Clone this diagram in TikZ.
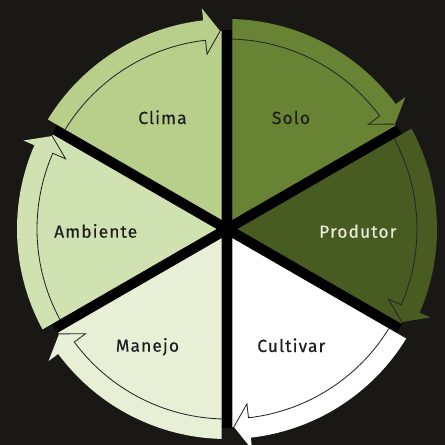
\documentclass[tikz,border=0pt]{standalone}
\usepackage{fontspec}
\setmainfont{Fira Sans}[LetterSpace=6, FakeBold=0.3]
\usetikzlibrary{calc}
\definecolor{bgcol}{HTML}{1A1815}
\definecolor{climacol}{HTML}{B8CE8B}
\definecolor{solocol}{HTML}{688334}
\definecolor{produtorcol}{HTML}{485B21}
\definecolor{cultivarcol}{HTML}{FFFFFF}
\definecolor{manejocol}{HTML}{E7F0D7}
\definecolor{ambientecol}{HTML}{D1E2B2}
\definecolor{ringcol}{HTML}{262626}
\definecolor{darktext}{HTML}{1E1E1E}
\definecolor{lighttext}{HTML}{E9EDDC}
\tikzset{
  ringline/.style={draw=ringcol, line width=0.85pt},
  gapline/.style={draw=black, line width=10.6pt},
  label/.style={inner sep=0pt, anchor=base, font=\fontsize{17.5}{20}\selectfont, text=darktext}
}
\begin{document}
\begin{tikzpicture}[x=1pt,y=1pt]
\fill[bgcol] (-227,-216) rectangle (218,229);
\useasboundingbox (-227,-216) rectangle (218,229);
\foreach \a in {90,30,-30,-90,-150,150} {
  \draw[gapline] (0,0) -- (\a:199);
}
\foreach \t/\c in {150/climacol, 90/solocol, 30/produtorcol, -30/cultivarcol, -90/manejocol, -150/ambientecol} {
  \pgfmathsetmacro\h{\t-60}
  \pgfmathsetmacro\m{\t-30}
  \pgfmathsetmacro\hb{\h+6.5}
  \pgfmathsetmacro\ht{\h+2}
  \pgfmathsetmacro\tn{\t-90}
  \pgfmathsetmacro\hn{\h+90}
  \begin{scope}
    \clip (\m:10.6) -- ($(\t:300)+(\tn:5.3)$) -- (\m:450) -- ($(\h:300)+(\hn:5.3)$) -- cycle;
    \fill[\c] (0,0) -- (\t:210) arc[start angle=\t, end angle=\hb, radius=210pt] -- (\hb:222) -- (\ht:198) -- (\h:198) -- cycle;
    \draw[ringline] (\t:190) arc[start angle=\t, end angle=\hb, radius=190pt] -- (\hb:176) -- (\ht:198);
  \end{scope}
}
\node[label] (clima) at (-64.5,105) {Clima};
\node[label] (solo) at (64,105) {Solo};
\node[label] (ambiente) at (-131.3,-8.7) {Ambiente};
\node[label, text=lighttext] (produtor) at (130.8,-8.7) {Produtor};
\node[label] (manejo) at (-79.5,-122.7) {Manejo};
\node[label] (cultivar) at (64.3,-123) {Cultivar};
\end{tikzpicture}
\end{document}
